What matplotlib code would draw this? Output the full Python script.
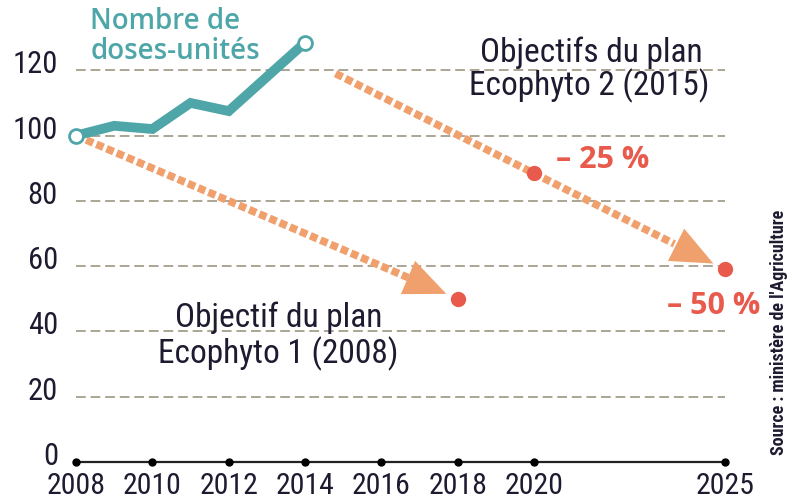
import matplotlib
matplotlib.use("Agg")
import matplotlib.pyplot as plt
from matplotlib import font_manager
from matplotlib.transforms import ScaledTranslation

# indice du nombre de doses-unités (base 100 en 2008)
years = [2008, 2009, 2010, 2011, 2012, 2013, 2014]
nodu = [100, 103, 102, 110, 107.5, 118, 128.5]

# objectifs Ecophyto 1 (2008) et Ecophyto 2 (2015)
eco1_x, eco1_y = [2008, 2018], [100, 50]
eco2_x, eco2_y = [2014.8, 2020, 2025], [119, 88.5, 59]

xticks = [2008, 2010, 2012, 2014, 2016, 2018, 2020, 2025]
yticks = [0, 20, 40, 60, 80, 100, 120]

TEAL = "#4fa6a8"
ORANGE = "#f0a06c"
RED = "#e85a4b"
GRID = "#aba596"
INK = "#1e1a30"


def pick(names):
    for n in names:
        try:
            font_manager.findfont(n, fallback_to_default=False)
            return n
        except Exception:
            pass
    return "DejaVu Sans"


NARROW = pick(["Liberation Sans Narrow", "Roboto Condensed", "DejaVu Sans Condensed", "Roboto"])
HUMAN = pick(["Open Sans", "Noto Sans", "DejaVu Sans"])

fig = plt.figure(figsize=(7.92, 5), dpi=100)
ax = fig.add_axes([76 / 792, 38 / 500, 649 / 792, 457 / 500])
ax.set_xlim(2008, 2025)
ax.set_ylim(0, 140)
for s in ax.spines.values():
    s.set_visible(False)

# grille pointillée
for v in yticks[1:]:
    ax.axhline(v, color=GRID, lw=1.4, ls=(0, (5, 2.5)), zorder=1)

# axe des x avec points
ax.plot([xticks[0], xticks[-1]], [0, 0], color="#222222", lw=1.6, zorder=3, clip_on=False)
ax.plot(xticks, [0] * len(xticks), "o", color="black", ms=5, zorder=4, clip_on=False)

ax.set_xticks(xticks)
ax.set_yticks(yticks)
ax.tick_params(length=0, labelsize=21.5, labelcolor=INK)
ax.tick_params(axis="y", pad=13)
for lab in ax.get_xticklabels() + ax.get_yticklabels():
    lab.set_fontfamily(NARROW)
for lab in ax.get_xticklabels():
    lab.set_verticalalignment("baseline")
    lab.set_transform(lab.get_transform() + ScaledTranslation(0, -0.27, fig.dpi_scale_trans))
for lab in ax.get_yticklabels():
    lab.set_fontsize(22)
    lab.set_verticalalignment("bottom")
    lab.set_transform(lab.get_transform() + ScaledTranslation(0, -0.09, fig.dpi_scale_trans))


def arrow(x0, y0, x1, y1):
    # flèche pointillée épaisse vers l'objectif
    t_tip, t_base = 0.97, 0.87
    tx, ty = x0 + (x1 - x0) * t_tip, y0 + (y1 - y0) * t_tip
    bx, by = x0 + (x1 - x0) * t_base, y0 + (y1 - y0) * t_base
    ax.plot([x0, bx], [y0, by], color=ORANGE, lw=5.5, ls=(0, (1.0, 0.45)),
            solid_capstyle="butt", dash_capstyle="butt", zorder=2, clip_on=False)
    ax.annotate("", xy=(tx, ty), xytext=(bx, by),
                arrowprops=dict(arrowstyle="-|>,head_length=1.5,head_width=0.65",
                                mutation_scale=20, color=ORANGE, lw=0,
                                shrinkA=0, shrinkB=0), zorder=2)


arrow(eco1_x[0], eco1_y[0], eco1_x[-1], eco1_y[-1])
arrow(eco2_x[0], eco2_y[0], eco2_x[-1], eco2_y[-1])

ax.plot(eco1_x[1:], eco1_y[1:], "o", color=RED, ms=10, zorder=5, clip_on=False)
ax.plot(eco2_x[1:], eco2_y[1:], "o", color=RED, ms=10, zorder=5, clip_on=False)

# courbe NODU
ax.plot(years, nodu, color=TEAL, lw=7, solid_joinstyle="miter", zorder=6, clip_on=False)
ax.plot([years[0], years[-1]], [nodu[0], nodu[-1]], "o", ms=10, mfc="white",
        mec=TEAL, mew=2, zorder=7, clip_on=False)

# textes
ax.text(2008.37, 132.5, "Nombre de", color=TEAL, fontsize=20, fontweight="semibold",
        family=HUMAN, va="baseline", ha="left", zorder=8)
ax.text(2008.37, 123.6, "doses-unités", color=TEAL, fontsize=20, fontweight="semibold",
        family=HUMAN, va="baseline", ha="left", zorder=8)

ax.text(2021.5, 122.6, "Objectifs du plan", color=INK, fontsize=24, family=NARROW,
        ha="center", va="baseline")
ax.text(2021.45, 112.2, "Ecophyto 2 (2015)", color=INK, fontsize=24, family=NARROW,
        ha="center", va="baseline")
ax.text(2013.3, 41.5, "Objectif du plan", color=INK, fontsize=24, family=NARROW,
        ha="center", va="baseline")
ax.text(2013.3, 30.2, "Ecophyto 1 (2008)", color=INK, fontsize=24, family=NARROW,
        ha="center", va="baseline")

ax.text(2021.8, 90.0, "– 25 %", color=RED, fontsize=22, fontweight="bold",
        family=HUMAN, ha="center", va="baseline")
ax.text(2024.7, 45.2, "– 50 %", color=RED, fontsize=22, fontweight="bold",
        family=HUMAN, ha="center", va="baseline")

fig.text(779 / 792, 1 - 332 / 500, "Source : ministère de l'Agriculture", rotation=90,
         ha="center", va="center", fontsize=13, fontweight="bold", family=NARROW, color=INK)

fig.savefig("out.png", dpi=100)
